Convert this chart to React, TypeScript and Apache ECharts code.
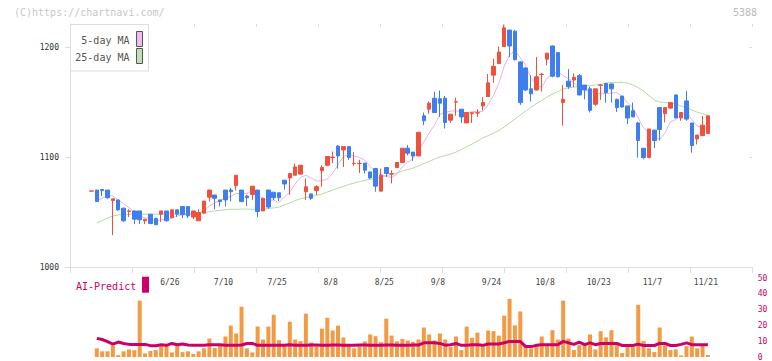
import { useEffect, useRef } from 'react';
import * as echarts from 'echarts';

// Trading days (2025) shown on the chart
const dates = [
  '6/5','6/6','6/9','6/10','6/11','6/12','6/13','6/16','6/17','6/18','6/19','6/20','6/23','6/24','6/25','6/26','6/27','6/30',
  '7/1','7/2','7/3','7/4','7/7','7/8','7/9','7/10','7/11','7/14','7/15','7/16','7/17','7/18','7/22','7/23','7/24','7/25','7/28','7/29','7/30','7/31',
  '8/1','8/4','8/5','8/6','8/7','8/8','8/12','8/13','8/14','8/15','8/18','8/19','8/20','8/21','8/22','8/25','8/26','8/27','8/28','8/29',
  '9/1','9/2','9/3','9/4','9/5','9/8','9/9','9/10','9/11','9/12','9/16','9/17','9/18','9/19','9/22','9/24','9/25','9/26','9/29','9/30',
  '10/1','10/2','10/3','10/6','10/7','10/8','10/9','10/10','10/14','10/15','10/16','10/17','10/20','10/21','10/22','10/23','10/24','10/27','10/28','10/29','10/30','10/31',
  '11/4','11/5','11/6','11/7','11/10','11/11','11/12','11/13','11/14','11/17','11/18','11/19','11/20','11/21',
];

const opens = [
  1069, 1070, 1070.5, 1070, 1060.5, 1061, 1053.5, 1050.5, 1051, 1051,
  1042, 1048, 1044, 1048, 1051, 1045, 1052, 1055, 1055, 1045.5,
  1042, 1049, 1063.5, 1065.5, 1061, 1070, 1070, 1074, 1070, 1064.5,
  1066, 1070, 1051, 1070, 1068, 1067.5, 1079, 1081, 1083.5, 1084.5,
  1068.5, 1066.5, 1069.5, 1087.5, 1092.5, 1099.5, 1110, 1106.5, 1109.5, 1094,
  1094, 1094.5, 1086.5, 1089.5, 1069, 1090.5, 1084.5, 1090.5, 1095, 1108,
  1104.5, 1101, 1137.5, 1143.5, 1153.5, 1153, 1153.5, 1133.5, 1150, 1143.5,
  1131, 1139.5, 1140, 1146.5, 1155, 1174.5, 1185, 1200.5, 1215.5, 1214.5,
  1186.5, 1181, 1162, 1161, 1175, 1189, 1201, 1195, 1149.5, 1169,
  1170, 1174, 1165.5, 1162, 1148, 1165.2, 1167, 1166.5, 1152.5, 1155.5,
  1146.5, 1142, 1131, 1108, 1099.5, 1124.5, 1145, 1139.5, 1144.5, 1156.5,
  1135.5, 1151, 1131, 1116.5, 1119.5, 1121.5,
];
const closes = [
  1069.2, 1059.5, 1069.5, 1063, 1062, 1052, 1042, 1051, 1043.5, 1043,
  1043.5, 1039.5, 1038.5, 1051, 1042, 1052, 1048, 1047.5, 1046.5, 1051,
  1049.5, 1060, 1070, 1062.5, 1059.5, 1061, 1068.5, 1083.5, 1059.5, 1063,
  1073.5, 1050.5, 1062.5, 1054.5, 1063, 1063, 1075.5, 1085, 1091, 1092.5,
  1073, 1062.5, 1073, 1090.5, 1100.5, 1100, 1101, 1109.5, 1099.5, 1094.3,
  1094.3, 1088, 1081, 1073.5, 1083.5, 1085, 1084.8, 1095, 1108, 1103.5,
  1101, 1122.5, 1133, 1149, 1140.5, 1149, 1131.5, 1139, 1150.3, 1136.5,
  1140.5, 1140.3, 1140.3, 1149.5, 1167.5, 1182.5, 1195.5, 1217.5, 1201, 1188.5,
  1149.5, 1161, 1157.5, 1173, 1175.3, 1194.5, 1173.5, 1173, 1152.5, 1164,
  1172.5, 1156.5, 1161, 1142.5, 1162, 1165.5, 1158.5, 1162, 1145, 1145.5,
  1135.5, 1136.5, 1115, 1099.5, 1125.5, 1115, 1125, 1145, 1149.5, 1135.5,
  1140.5, 1134.5, 1110.5, 1120, 1129, 1137.5,
];
const lows = [
  1069, 1059.5, 1064.5, 1062, 1029, 1051, 1041, 1045.5, 1039, 1039,
  1039, 1039, 1038, 1041, 1041.5, 1044, 1045.5, 1044.5, 1044.5, 1043.5,
  1042, 1048, 1059.5, 1052.5, 1055, 1055, 1059.5, 1069.5, 1059, 1055.5,
  1061, 1045.5, 1051, 1053, 1061, 1060, 1070.5, 1065.5, 1083.5, 1084,
  1061, 1061, 1065.5, 1073, 1092, 1094.5, 1089.5, 1091, 1097.5, 1092,
  1085.5, 1085, 1080, 1068.5, 1069, 1082, 1076, 1090, 1094.5, 1101.5,
  1096.5, 1101, 1129, 1139.5, 1140, 1136.5, 1126, 1131, 1137.5, 1131,
  1131, 1131, 1136.5, 1142.5, 1154.5, 1167.5, 1184.5, 1200, 1191, 1188,
  1147.5, 1160, 1150.5, 1160.5, 1159.5, 1183.5, 1172.5, 1172.5, 1128.5, 1162,
  1163.5, 1156, 1152.5, 1140.5, 1146.5, 1152, 1149.5, 1149.5, 1141, 1145,
  1130, 1136.5, 1099.5, 1098, 1099, 1108, 1115, 1131.5, 1144, 1135.5,
  1133, 1133, 1104, 1111.5, 1119, 1121,
];
const highs = [
  1069.2, 1070, 1070.5, 1070, 1062, 1061, 1054, 1052.5, 1051, 1051,
  1043.5, 1048, 1045, 1051, 1051, 1052, 1052, 1055, 1055, 1051,
  1052.5, 1060, 1070, 1065.5, 1061, 1070, 1072, 1083.5, 1070, 1065.5,
  1073.5, 1070, 1063, 1070, 1068, 1067.5, 1079, 1085.5, 1094, 1093,
  1080.5, 1066.5, 1074.5, 1092.5, 1100.5, 1105, 1111, 1109.5, 1109.5, 1104.5,
  1097.5, 1094.5, 1086.5, 1090, 1089.5, 1090.5, 1088, 1095, 1108, 1111,
  1104.5, 1122.5, 1140.5, 1150.5, 1159.5, 1160.5, 1155.5, 1139, 1154, 1143.5,
  1140.5, 1141, 1143.5, 1154.5, 1175.5, 1189.5, 1200.5, 1220.5, 1215.5, 1215.5,
  1187, 1181.5, 1174.5, 1191, 1176.5, 1194.5, 1201.5, 1195, 1165.5, 1180,
  1176, 1175.5, 1165.5, 1164, 1162, 1166.5, 1167, 1166.5, 1153, 1155.5,
  1146.5, 1149.5, 1132, 1108, 1125.5, 1124.5, 1145, 1145, 1149.5, 1156.5,
  1140.5, 1160, 1131, 1120, 1137.5, 1137.5,
];

// first MA values (earlier closes are off-chart)
const ma5Start = [null, 1060, 1062.5, 1065];

const ma25 = [
  null, 1040, 1042.3, 1044.5, 1046.4, 1047.3, 1047.7, 1047.9, 1048, 1048,
  1048, 1048, 1048, 1048, 1048.5, 1048.5, 1048.5, 1048.5, 1048.5, 1048.5,
  1048.9, 1049.5, 1050.3, 1050.9, 1051.5, 1052.1, 1052.5, 1052.5, 1052.7, 1052.7,
  1052.5, 1052.5, 1052.7, 1053.2, 1053.8, 1054.5, 1056.4, 1058.2, 1060.5, 1062,
  1063.2, 1064, 1065.2, 1066.4, 1068.2, 1070, 1071.8, 1073.2, 1075, 1076.4,
  1077.7, 1078.8, 1079.7, 1080.7, 1081.8, 1083.2, 1084.1, 1085.5, 1087.3, 1088.6,
  1090, 1091.8, 1094.1, 1095.9, 1098.2, 1100, 1101.4, 1102.7, 1104.5, 1106.8,
  1109.5, 1111.8, 1114.5, 1117.3, 1119.5, 1121.8, 1124.1, 1127.3, 1130.9, 1134.5,
  1138.2, 1141.8, 1145.5, 1148.6, 1151.4, 1154.5, 1157.3, 1159.5, 1161.8, 1163,
  1163.6, 1164.1, 1164.5, 1165, 1165.5, 1165.9, 1167.3, 1167.7, 1167.9, 1167.9,
  1167.3, 1165.5, 1163.2, 1160, 1155.9, 1151.8, 1150, 1149.5, 1149.1, 1148.2,
  1146.4, 1145, 1142.7, 1140.9, 1139.5, 1138.2,
];

const volumes = [
  null, 5.5, 3.6, 3.6, 7.3, 1.2, 3.6, 4.8, 4.3, 35.8,
  2.3, 3.8, 4.4, 6.9, 7.3, 2.9, 7.3, 3.1, 3.6, 1.9,
  3.6, 5.5, 11.7, 5.7, 7.3, 13, 19.9, 14.9, 31.9, 5.5,
  2.9, 19.3, 11.1, 19.3, 26.8, 10.7, 6.9, 22.4, 11.1, 10.1,
  27.5, 9.2, 6.9, 18, 24.9, 16.8, 19.9, 12.4, 7.3, 5.5,
  7.3, 9.9, 14.3, 13.2, 9.4, 24.3, 13.6, 9.9, 11.5, 10.5,
  9.6, 11.1, 18.7, 14.3, 10.5, 14.9, 11.1, 6.3, 13, 4.4,
  19.3, 12.2, 15.5, 6.9, 16.8, 16.4, 13.6, 26.2, 36.9, 20.1,
  28.9, 6.3, 5.5, 8, 13, 6.9, 17, 11.1, 35.8, 11.7,
  4.4, 7.5, 8, 14.3, 4.8, 16.4, 12.4, 17, 9, 2.5,
  6.3, 6.3, 33.1, 10.1, 5.5, 3.1, 18.7, 7.5, 4.4, 4.8,
  1, 6.9, 13, 5.5, 7.5, 1.3,
];

const aiPredict = [
  null, 11.8, 11.1, 9.8, 8.2, 9.5, 8.6, 8.0, 8.0, 8.0,
  8.0, 7.2, 7.2, 7.8, 7.4, 8.6, 7.8, 8.2, 7.6, 7.4,
  7.4, 7.4, 7.8, 7.8, 7.8, 7.4, 7.4, 7.4, 7.6, 8.6,
  8.6, 7.4, 7.4, 7.4, 7.4, 7.4, 7.4, 7.8, 7.4, 7.4,
  7.4, 7.6, 7.6, 7.4, 7.4, 7.6, 7.6, 7.4, 7.4, 7.4,
  7.6, 7.6, 7.4, 7.4, 7.4, 7.6, 7.6, 7.4, 7.4, 7.4,
  7.6, 7.6, 9.0, 9.0, 9.0, 8.6, 7.5, 7.8, 8.6, 7.4,
  7.4, 7.8, 7.8, 7.4, 8.2, 8.2, 8.2, 9.0, 9.9, 9.9,
  9.9, 6.6, 6.6, 7.4, 7.8, 7.8, 7.8, 7.8, 9.9, 9.0,
  8.0, 9.4, 7.8, 9.0, 7.8, 8.6, 8.6, 8.6, 8.6, 7.3,
  7.3, 7.3, 8.2, 7.3, 7.3, 7.3, 8.6, 8.6, 7.3, 7.3,
  8.0, 9.0, 7.8, 7.8, 7.8, 7.8,
];

const priceTicks = [1000, 1100, 1200];
const predictTicks = [0, 10, 20, 30, 40, 50];

const PAD_LEFT = 4;
const N_CAT = 128;
const MONO = '"DejaVu Sans Mono", monospace';
const RED = '#f0503c';
const BLUE = '#3f7eee';
const PINK = '#e8b2e8';
const GREEN = '#b2dba2';
const CRIMSON = '#cc0066';
const AXIS = '#dddddd';

export default function App() {
  const ref = useRef<HTMLDivElement>(null);

  useEffect(() => {
    if (!ref.current) return;
    const chart = echarts.init(ref.current, undefined, { renderer: 'svg' });

    const categories = Array.from({ length: N_CAT }, (_, j) =>
      j >= PAD_LEFT && j < PAD_LEFT + dates.length ? dates[j - PAD_LEFT] : 'pad' + j
    );

    const ma5 = closes.map((_, i) => {
      if (i < 4) return ma5Start[i];
      let s = 0;
      for (let k = i - 4; k <= i; k++) s += closes[k];
      return s / 5;
    });

    const toXY = (arr: (number | null)[]) =>
      arr
        .map((v, i) => (v == null ? null : [i + PAD_LEFT, v]))
        .filter((d) => d !== null);

    const candleData = dates.map((_, i) => [i + PAD_LEFT, opens[i], closes[i], lows[i], highs[i]]);

    const option: any = {
      animation: false,
      grid: [
        { left: 70, top: 24, width: 680.8, height: 243 },
        { left: 70, top: 24, width: 682, height: 243 },
        { left: 70, top: 278.2, width: 680.8, height: 79.5 },
      ],
      xAxis: [
        {
          gridIndex: 0,
          type: 'category',
          data: categories,
          boundaryGap: false,
          axisLine: { show: false },
          axisTick: { show: false },
          splitLine: { show: false },
          axisLabel: {
            interval: (index: number) => {
              const i = index - PAD_LEFT;
              return i >= 15 && i < dates.length && i % 10 === 5;
            },
            margin: 11,
            fontSize: 8,
            color: '#444',
            fontFamily: MONO,
            padding: [0, 4, 0, 0],
          },
        },
        {
          gridIndex: 1,
          type: 'value',
          min: 0,
          max: 11,
          interval: 1,
          axisLine: { show: true, onZero: false, lineStyle: { color: AXIS, width: 1 } },
          axisTick: { show: true, length: 6, lineStyle: { color: AXIS } },
          axisLabel: { show: false },
          splitLine: { show: false },
        },
        {
          gridIndex: 1,
          type: 'value',
          min: 0,
          max: 11,
          interval: 1,
          axisLine: { show: false, onZero: false },
          axisTick: { show: true, inside: true, length: 3, lineStyle: { color: AXIS } },
          axisLabel: { show: false },
          splitLine: { show: false },
        },
        {
          gridIndex: 2,
          type: 'category',
          data: categories,
          boundaryGap: false,
          show: false,
        },
      ],
      yAxis: [
        { gridIndex: 0, type: 'value', min: 1000, max: 1221, show: false, splitLine: { show: false } },
        {
          gridIndex: 1,
          type: 'value',
          min: 1000,
          max: 1221,
          axisLine: { show: true, onZero: false, lineStyle: { color: AXIS, width: 1 } },
          axisTick: { show: true, length: 5, customValues: priceTicks, lineStyle: { color: AXIS } },
          axisLabel: {
            customValues: priceTicks,
            formatter: (v: number) => String(v),
            margin: 11,
            fontSize: 8,
            color: '#333',
            fontFamily: MONO,
          },
          splitLine: { show: false },
        },
        {
          gridIndex: 1,
          type: 'value',
          min: 1000,
          max: 1221,
          axisLine: { show: false, onZero: false },
          axisTick: { show: true, inside: true, length: 3, customValues: priceTicks, lineStyle: { color: AXIS } },
          axisLabel: { show: false },
          splitLine: { show: false },
        },
        {
          gridIndex: 2,
          type: 'value',
          position: 'right',
          min: 0,
          max: 50,
          interval: 10,
          axisLine: { show: false },
          axisTick: { show: false },
          splitLine: { show: false },
          axisLabel: {
            customValues: predictTicks,
            formatter: (v: number) => String(v),
            margin: 7,
            fontSize: 8,
            color: CRIMSON,
            fontFamily: MONO,
          },
        },
      ],
      series: [
        {
          name: '25-day MA',
          type: 'line',
          xAxisIndex: 0,
          yAxisIndex: 0,
          data: toXY(ma25),
          showSymbol: false,
          symbol: 'none',
          lineStyle: { width: 1, color: GREEN },
          z: 2,
        },
        {
          name: '5-day MA',
          type: 'line',
          xAxisIndex: 0,
          yAxisIndex: 0,
          data: toXY(ma5),
          showSymbol: false,
          symbol: 'none',
          lineStyle: { width: 1, color: PINK },
          z: 2,
        },
        {
          name: 'price',
          type: 'candlestick',
          xAxisIndex: 0,
          yAxisIndex: 0,
          data: candleData,
          encode: { x: 0, y: [1, 2, 3, 4] },
          barWidth: 4,
          itemStyle: {
            color: RED,
            color0: BLUE,
            borderColor: RED,
            borderColor0: BLUE,
            borderWidth: 1,
          },
          z: 3,
        },
        {
          name: 'volume',
          type: 'bar',
          xAxisIndex: 3,
          yAxisIndex: 3,
          data: toXY(volumes),
          barWidth: 4,
          itemStyle: { color: '#f39a45' },
        },
        {
          name: 'AI-Predict',
          type: 'line',
          xAxisIndex: 3,
          yAxisIndex: 3,
          data: toXY(aiPredict),
          showSymbol: false,
          symbol: 'none',
          lineStyle: { width: 3, color: CRIMSON },
          z: 4,
        },
      ],
      graphic: [
        {
          type: 'text',
          z: 100,
          x: 14,
          y: 12,
          style: { text: '(C)https://chartnavi.com/', fill: '#c8c8c8', font: '10px ' + MONO, align: 'left', verticalAlign: 'middle' },
        },
        {
          type: 'text',
          z: 100,
          x: 757,
          y: 12,
          style: { text: '5388', fill: '#bbbbbb', font: '10px ' + MONO, align: 'right', verticalAlign: 'middle' },
        },
        {
          type: 'rect',
          z: 100,
          shape: { x: 70.5, y: 24.5, width: 78, height: 46.5 },
          style: { fill: '#ffffff', stroke: AXIS, lineWidth: 1 },
        },
        {
          type: 'text',
          z: 101,
          x: 129.5,
          y: 40.5,
          style: { text: '5-day MA', fill: '#555555', font: '10px ' + MONO, align: 'right', verticalAlign: 'middle' },
        },
        {
          type: 'text',
          z: 101,
          x: 129.5,
          y: 57.3,
          style: { text: '25-day MA', fill: '#555555', font: '10px ' + MONO, align: 'right', verticalAlign: 'middle' },
        },
        {
          type: 'rect',
          z: 101,
          shape: { x: 136.5, y: 31.5, width: 6, height: 15 },
          style: { fill: '#f0bcf0', stroke: '#555555', lineWidth: 1 },
        },
        {
          type: 'rect',
          z: 101,
          shape: { x: 136.5, y: 48.5, width: 6, height: 15 },
          style: { fill: '#bfe0b2', stroke: '#555555', lineWidth: 1 },
        },
        {
          type: 'text',
          z: 101,
          x: 76,
          y: 286.5,
          style: { text: 'AI-Predict', fill: CRIMSON, font: '10px ' + MONO, align: 'left', verticalAlign: 'middle' },
        },
        {
          type: 'rect',
          z: 101,
          shape: { x: 142, y: 276.7, width: 7, height: 16 },
          style: { fill: CRIMSON },
        },
      ],
    };

    chart.setOption(option);
    return () => chart.dispose();
  }, []);

  return (
    <div
      ref={ref}
      style={{ position: 'fixed', left: 0, top: 0, width: 772, height: 361, background: '#ffffff' }}
    />
  );
}
